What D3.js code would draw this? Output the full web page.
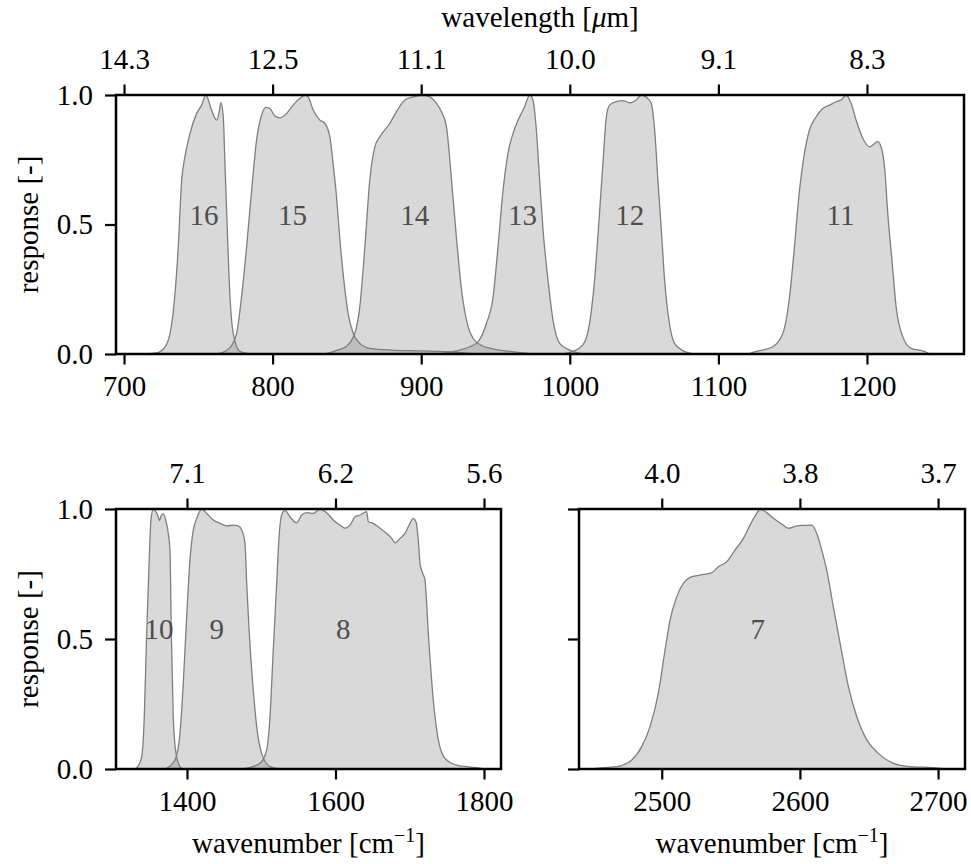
<!DOCTYPE html>
<html>
<head>
<meta charset="utf-8">
<title>band response</title>
<script src="https://cdn.jsdelivr.net/npm/d3@7"></script>
<style>
  body { margin: 0; background: #fff; }
  text { font-family: 'Liberation Serif', 'DejaVu Serif', serif; fill: #000; }
  .band-line { fill: none; stroke: #7f7f7f; stroke-width: 1.3px; }
  .band-fill { fill: #808080; fill-opacity: 0.3; stroke: none; }
  .band-label { fill: #4d4d4d; text-anchor: middle; }
</style>
</head>
<body>
<script>
// spectral response, [wavenumber cm-1, response]
const band16 = [[715,0],[722,0.004],[728,0.03],[733,0.157],[736.5,0.414],[738.8,0.672],[741,0.762],[744.4,0.852],[748.9,0.929],[752.2,0.961],[755.1,1.0],[758.9,0.942],[762.3,0.903],[764.1,0.936],[765.2,0.970],[766.8,0.916],[767.9,0.736],[769.5,0.479],[771.3,0.221],[773.5,0.08],[778,0.01],[785,0]];
const band15 = [[762,0],[768,0.01],[772,0.03],[775.8,0.08],[779.1,0.221],[782.5,0.414],[785.9,0.633],[789.2,0.826],[792.6,0.923],[795.5,0.952],[798.2,0.948],[801.5,0.919],[804.9,0.912],[809.4,0.929],[813.8,0.961],[818.4,0.987],[821.7,1.0],[823.9,0.993],[827.3,0.942],[831.8,0.903],[835.1,0.891],[838.5,0.839],[840.7,0.736],[843,0.607],[845.3,0.440],[847.9,0.286],[850.8,0.157],[854.2,0.08],[858.7,0.041],[865.4,0.022],[880,0.015],[900,0.012],[920,0.008],[935,0]];
const band14 = [[835,0],[842,0.012],[849.7,0.03],[855.3,0.08],[858.7,0.183],[862.1,0.414],[865.4,0.672],[868.8,0.8],[872.2,0.839],[878.9,0.891],[883.4,0.936],[889,0.981],[894.6,0.993],[901.3,1.0],[905.8,0.993],[910.3,0.968],[913.6,0.936],[917,0.877],[920.4,0.672],[923.7,0.45],[927.1,0.25],[931.6,0.105],[935,0.06],[940,0.035],[948,0.02],[960,0.01],[975,0]];
const band13 = [[912,0],[920,0.008],[926,0.015],[932.7,0.028],[938.3,0.048],[943.9,0.118],[948.4,0.221],[951.7,0.414],[955.1,0.633],[958.4,0.775],[961.8,0.852],[965.2,0.903],[969.6,0.955],[973,1.0],[975.2,0.981],[977.5,0.865],[979.7,0.672],[982,0.479],[985.3,0.286],[988.7,0.131],[993.2,0.041],[999.9,0.015],[1009,0]];
const band12 = [[996,0],[1002,0.01],[1008.8,0.035],[1013.3,0.118],[1016.7,0.286],[1020,0.543],[1022.3,0.736],[1024.6,0.916],[1026.8,0.961],[1031.3,0.974],[1035.8,0.978],[1040.3,0.970],[1044.8,0.981],[1048.1,1.0],[1051.5,0.991],[1054.8,0.968],[1057.1,0.865],[1059.3,0.672],[1061.6,0.479],[1063.8,0.286],[1066.7,0.131],[1070.5,0.041],[1076.1,0.013],[1083,0]];
const band11 = [[1120,0],[1125.5,0.01],[1136.6,0.028],[1143.4,0.08],[1147.9,0.221],[1151.2,0.414],[1154.6,0.633],[1157.9,0.775],[1161.3,0.865],[1165.8,0.916],[1170.2,0.948],[1174.8,0.961],[1179.2,0.974],[1182.6,0.981],[1186,1.0],[1189.3,0.968],[1192.7,0.903],[1197.2,0.833],[1201.7,0.8],[1203.9,0.807],[1207.3,0.820],[1209.5,0.8],[1211.8,0.723],[1214,0.543],[1217,0.350],[1219.6,0.183],[1224.1,0.067],[1229.7,0.022],[1238.7,0.01],[1242,0]];
const band10 = [[1328,0],[1332.3,0.005],[1339,0.047],[1342.5,0.201],[1345.7,0.522],[1348.8,0.778],[1351.5,0.958],[1354.6,1.0],[1357.8,0.99],[1360.5,0.977],[1362.7,0.955],[1365,0.973],[1368.1,0.981],[1371.3,0.958],[1374.8,0.906],[1377.1,0.842],[1378.9,0.522],[1381.5,0.201],[1385.2,0.06],[1390.6,0.009],[1395,0]];
const band9 = [[1368,0],[1372.7,0.003],[1383.8,0.035],[1390.6,0.137],[1395,0.33],[1399.6,0.586],[1404,0.804],[1408.5,0.919],[1413.1,0.964],[1419.8,1.0],[1426.5,0.983],[1435.4,0.958],[1444.4,0.945],[1453.5,0.935],[1462.4,0.938],[1469.1,0.935],[1473.7,0.919],[1478.1,0.868],[1480.4,0.714],[1483.9,0.522],[1488.5,0.33],[1493.9,0.163],[1500.6,0.06],[1511.8,0.009],[1525,0]];
const band8 = [[1475,0],[1480.4,0.003],[1498.3,0.022],[1507.3,0.073],[1511.8,0.201],[1516.2,0.458],[1520.8,0.714],[1524.3,0.906],[1527.5,0.977],[1532,0.995],[1538.7,0.97],[1547.7,0.947],[1554.5,0.977],[1561.2,0.986],[1570.1,0.983],[1579.1,1.0],[1588.1,0.986],[1597,0.958],[1606.1,0.938],[1612.8,0.926],[1619.5,0.938],[1626.3,0.97],[1633,0.977],[1642,0.99],[1644.2,0.951],[1650.9,0.945],[1659.9,0.926],[1669,0.906],[1675.7,0.887],[1680.1,0.870],[1686.9,0.887],[1693.6,0.906],[1700.3,0.945],[1704.8,0.964],[1708.4,0.951],[1711.5,0.881],[1713.8,0.791],[1717.4,0.753],[1720.5,0.727],[1725,0.522],[1731.7,0.265],[1738.5,0.112],[1747.5,0.041],[1763.2,0.015],[1790.2,0.005],[1800,0]];
const band7 = [[2450,0],[2457.7,0.005],[2467.4,0.009],[2478.3,0.035],[2485.5,0.086],[2491.5,0.163],[2497.5,0.291],[2502.4,0.458],[2506,0.573],[2510.9,0.663],[2515.6,0.714],[2520.5,0.737],[2527.7,0.746],[2536.2,0.755],[2541,0.778],[2547,0.797],[2553,0.842],[2559.1,0.887],[2563.9,0.938],[2568.7,0.983],[2571.2,1.0],[2576,0.986],[2580.8,0.964],[2586.9,0.942],[2591.7,0.926],[2597.7,0.935],[2603.7,0.937],[2608.6,0.938],[2612.2,0.906],[2615.8,0.842],[2619.4,0.765],[2624.2,0.624],[2629.1,0.483],[2635.1,0.317],[2641.2,0.201],[2648.4,0.112],[2656.8,0.06],[2667.7,0.022],[2679.7,0.009],[2696.6,0.005],[2705,0]];

// band names and where the name sits (wavenumber)
const topBands = [["16", band16, 753.8], ["15", band15, 813.4], ["14", band14, 895.7], ["13", band13, 968.1], ["12", band12, 1040.3], ["11", band11, 1182.2]];
const leftBands = [["10", band10, 1362.3], ["9", band9, 1440], ["8", band8, 1610.5]];
const rightBands = [["7", band7, 2569.5]];

// ticks
const topTicks = [700, 800, 900, 1000, 1100, 1200];
const topWlLabels = ["14.3", "12.5", "11.1", "10.0", "9.1", "8.3"];
const leftTicks = [1400, 1600, 1800];
const leftWlLabels = ["7.1", "6.2", "5.6"];
const rightTicks = [2500, 2600, 2700];
const rightWlLabels = ["4.0", "3.8", "3.7"];
const yTicks = [0, 0.5, 1.0];

const W = 971, H = 864, FS = 29;
const FONT = "'Liberation Serif', 'DejaVu Serif', serif";

const svg = d3.select('body').append('svg')
    .attr('width', W).attr('height', H);

function panel(id, box, domain, bands, ticks, wlLabels, showY) {
    const x = d3.scaleLinear().domain(domain).range([box.left, box.right]);
    const y = d3.scaleLinear().domain([0, 1]).range([box.bottom, box.top]);

    svg.append('clipPath').attr('id', 'clip' + id)
      .append('rect')
        .attr('x', box.left).attr('y', box.top)
        .attr('width', box.right - box.left).attr('height', box.bottom - box.top);

    const g = svg.append('g').attr('clip-path', `url(#clip${id})`);

    const area = d3.area().x(d => x(d[0])).y0(y(0)).y1(d => y(d[1])).curve(d3.curveMonotoneX);
    const line = d3.line().x(d => x(d[0])).y(d => y(d[1])).curve(d3.curveMonotoneX);

    bands.forEach(b => {
        g.append('path').attr('class', 'band-fill').attr('d', area(b[1]));
    });
    bands.forEach(b => {
        g.append('path').attr('class', 'band-line').attr('d', line(b[1]));
    });
    bands.forEach(b => {
        svg.append('text').attr('class', 'band-label')
            .attr('x', x(b[2])).attr('y', y(0.5))
            .style('font-size', FS + 'px')
            .text(b[0]);
    });

    // axes
    const styleAxis = sel => {
        sel.attr('font-family', FONT).attr('font-size', FS);
        sel.select('.domain').remove();
        sel.selectAll('.tick line').attr('stroke', '#000').attr('stroke-width', 2.2);
        sel.selectAll('.tick text').style('font-size', FS + 'px')
            .style('font-family', FONT).attr('fill', '#000');
    };

    svg.append('g').attr('transform', `translate(0,${box.bottom})`)
        .call(d3.axisBottom(x).tickValues(ticks).tickFormat(d3.format('d')).tickSize(10.5).tickPadding(11))
        .call(styleAxis);

    svg.append('g').attr('transform', `translate(0,${box.top})`)
        .call(d3.axisTop(x).tickValues(ticks).tickFormat((d, i) => wlLabels[i]).tickSize(10.5).tickPadding(16))
        .call(styleAxis);

    svg.append('g').attr('transform', `translate(${box.left},0)`)
        .call(d3.axisLeft(y).tickValues(yTicks).tickFormat(showY ? d3.format('.1f') : '').tickSize(11).tickPadding(12))
        .call(styleAxis);

    svg.append('rect')
        .attr('x', box.left).attr('y', box.top)
        .attr('width', box.right - box.left).attr('height', box.bottom - box.top)
        .attr('fill', 'none').attr('stroke', '#000').attr('stroke-width', 2.5);

    return x;
}

const topBox = { left: 116, right: 964, top: 95, bottom: 354 };
const leftBox = { left: 116, right: 501, top: 509, bottom: 769 };
const rightBox = { left: 579, right: 965, top: 509, bottom: 769 };

panel('a', topBox, [694.6, 1265.3], topBands, topTicks, topWlLabels, true);
panel('b', leftBox, [1304.4, 1822.9], leftBands, leftTicks, leftWlLabels, true);
panel('c', rightBox, [2440.1, 2719.5], rightBands, rightTicks, rightWlLabels, false);

// axis titles
const wlTitle = svg.append('text')
    .attr('x', (topBox.left + topBox.right) / 2).attr('y', 27)
    .attr('text-anchor', 'middle').style('font-size', FS + 'px');
wlTitle.append('tspan').text('wavelength [');
wlTitle.append('tspan').style('font-style', 'italic').text('μ');
wlTitle.append('tspan').text('m]');

[topBox, leftBox].forEach(b => {
    svg.append('text')
        .attr('transform', `translate(38,${(b.top + b.bottom) / 2}) rotate(-90)`)
        .attr('text-anchor', 'middle').style('font-size', FS + 'px')
        .text('response [-]');
});

[leftBox, rightBox].forEach(b => {
    const t = svg.append('text')
        .attr('x', (b.left + b.right) / 2).attr('y', 853)
        .attr('text-anchor', 'middle').style('font-size', FS + 'px');
    t.append('tspan').text('wavenumber [cm');
    t.append('tspan').attr('dy', -11).style('font-size', '20px').text('−1');
    t.append('tspan').attr('dy', 11).text(']');
});
</script>
</body>
</html>
